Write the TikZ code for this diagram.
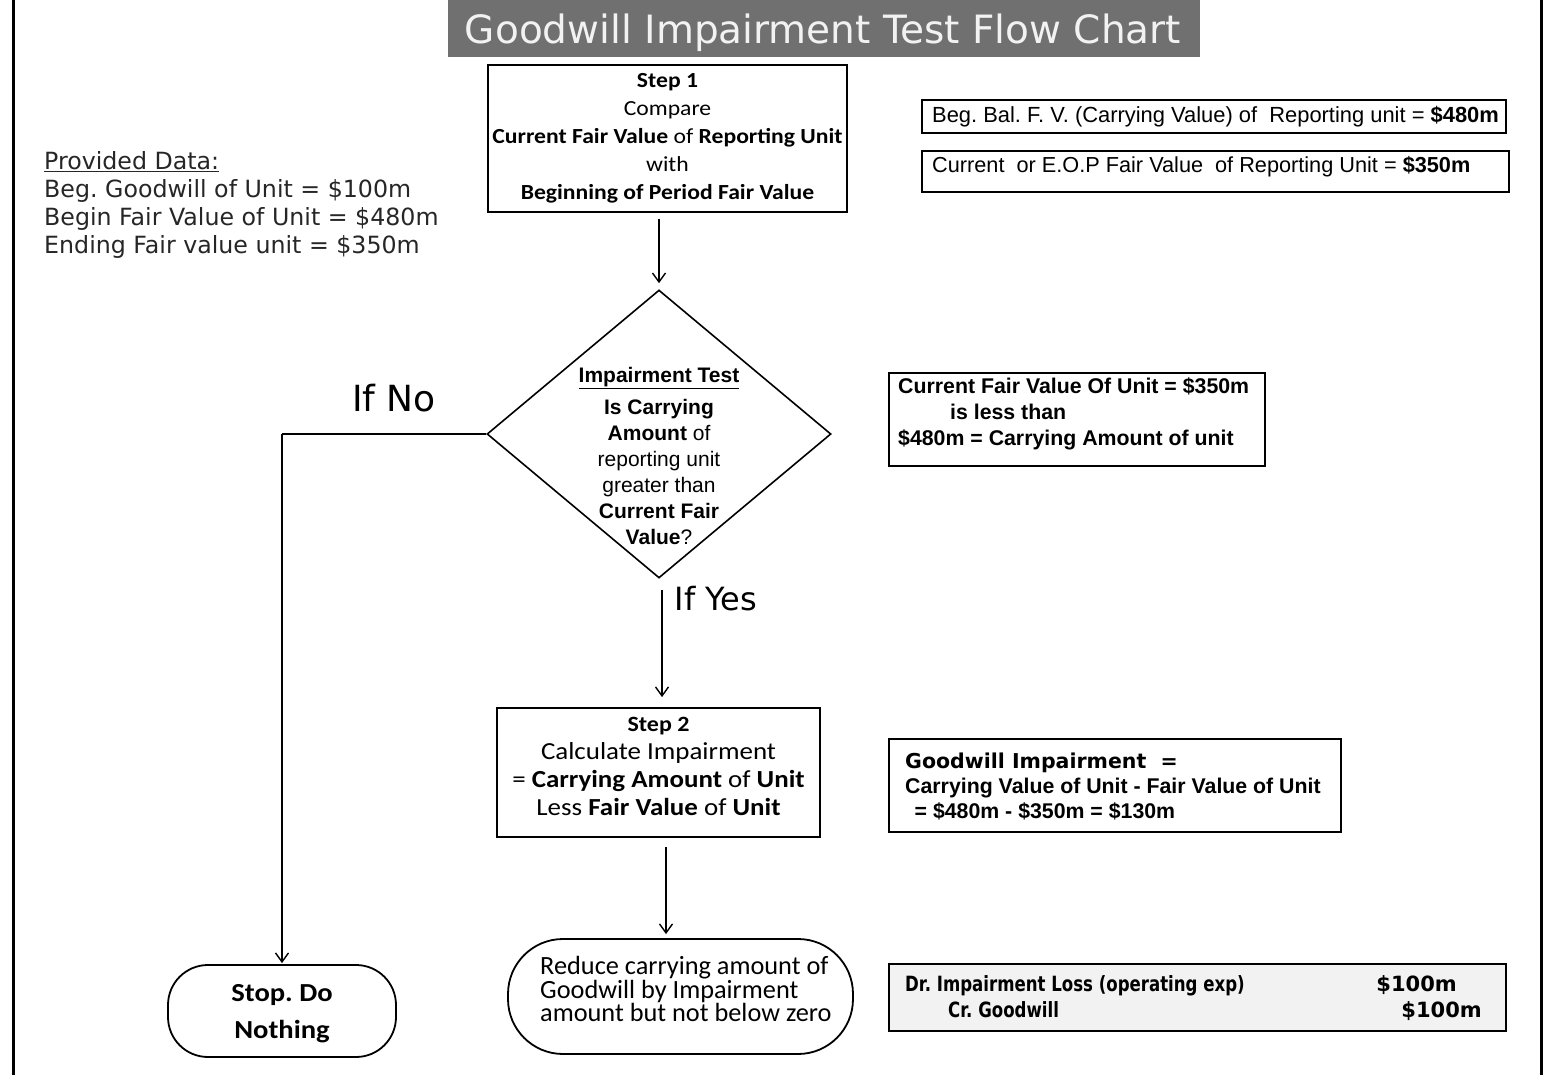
\documentclass[tikz,border=0pt]{standalone}
\usepackage{fontspec}
\setmainfont{Carlito}
\newfontfamily\verd{DejaVu Sans}
\newfontfamily\taho[FakeStretch=0.79]{DejaVu Sans}
\newfontfamily\ari{Liberation Sans}
\newfontfamily\fcal{Carlito}
\newfontfamily\fcalw[FakeStretch=1.1]{Carlito}
\usetikzlibrary{shapes.geometric,arrows.meta,shadows}
\definecolor{titlegray}{RGB}{112,112,112}
\definecolor{titletext}{RGB}{242,242,242}
\definecolor{jbox}{RGB}{242,242,242}
\begin{document}
\begin{tikzpicture}[x=1pt,y=-1pt,
  box/.style={draw, line width=1.8pt, inner sep=0pt},
  ibox/.style={draw, line width=1.8pt, inner sep=0pt, fill=white,
    drop shadow={shadow xshift=1.5pt, shadow yshift=-1.5pt, fill=black!45}},
  arr/.style={line width=1.5pt, -{Straight Barb[length=9pt,width=13pt,line width=1.4pt]}},
  txt/.style={inner sep=0pt},
  every node/.append style={execute at begin node={\lineskiplimit=-100pt\frenchspacing}}]
\useasboundingbox (0,0) rectangle (1545,1075);
% page borders
\draw[line width=3pt] (13,0) -- (13,1075);
\draw[line width=3pt] (1541,0) -- (1541,1075);
% title
\node[fill=titlegray, minimum width=752, minimum height=57, inner sep=0pt] (title) at (824,28.5) {};
\node[txt, anchor=base, text=titletext, font=\verd\fontsize{39}{40}\selectfont] (titlet) at (823,44)
  {Goodwill Impairment Test Flow Chart};
% provided data
\node[txt, anchor=north west, align=left, font=\verd\fontsize{23.7}{28}\selectfont, text=black!85] (data) at (44,151)
  {\underline{Provided Data:}\\Beg. Goodwill of Unit = \$100m\\Begin Fair Value of Unit = \$480m\\Ending Fair value unit = \$350m};
% step 1
\node[box, minimum width=359, minimum height=147, align=center,
  font=\fcalw\fontsize{21.5}{28}\selectfont] (s1) at (667.5,138.5)
  {\textbf{Step 1}\\Compare\\\textbf{Current Fair Value} of \textbf{Reporting Unit}\\with\\\textbf{Beginning of Period Fair Value}};
% diamond
\node[draw, diamond, line width=1.6pt, minimum width=344, minimum height=288, inner sep=0pt] (dia) at (659,434) {};
\node[txt, align=center, font=\ari\fontsize{21}{26}\selectfont] (diat) at (659,456)
  {\textbf{\underline{Impairment Test}}\\[6pt]\textbf{Is Carrying}\\\textbf{Amount} of\\reporting unit\\greater than\\\textbf{Current Fair}\\\textbf{Value}?};
% labels
\node[txt, font=\verd\fontsize{36}{38}\selectfont] (ifno) at (394,398) {If No};
\node[txt, font=\verd\fontsize{32}{34}\selectfont] (ifyes) at (716,599) {If Yes};
% step 2
\node[box, minimum width=323, minimum height=129] (s2) at (658.5,772.5) {};
\node[txt, align=center, font=\fcalw\fontsize{24.5}{28}\selectfont] (s2t) at (658.5,766)
  {{\fontsize{21.8}{28}\selectfont\textbf{Step 2}}\\Calculate Impairment\\= \textbf{Carrying Amount} of \textbf{Unit}\\Less \textbf{Fair Value} of \textbf{Unit}};
% terminal nodes
\node[box, rounded corners=40pt, minimum width=228, minimum height=92] (stop) at (282,1011) {};
\node[txt, align=center, font=\fcalw\bfseries\fontsize{26}{37}\selectfont] (stopt) at (282,1014) {Stop. Do\\Nothing};
\node[box, rounded corners=55pt, minimum width=345, minimum height=115] (red) at (680.5,996.5) {};
\node[txt, anchor=west, align=left, font=\fcal\fontsize{26.3}{23.5}\selectfont] (redt) at (540,989)
  {Reduce carrying amount of\\Goodwill by Impairment\\amount but not below zero};
% connectors
\draw[arr, shorten <=6pt, shorten >=6pt] (dia.north |- s1.south) -- (dia.north);
\draw[line width=1.5pt] (dia.west) -- (dia.west -| stop.north);
\draw[arr, shorten >=1pt] (dia.west -| stop.north) -- (stop.north);
\coordinate (yesStart) at (662,590);
\draw[arr, shorten >=10pt] (yesStart) -- (yesStart |- s2.north);
\coordinate (s2Out) at (666,847);
\draw[arr, shorten >=4pt] (s2Out) -- (s2Out |- red.north);
% right info boxes
\node[ibox, minimum width=584, minimum height=33, anchor=north west] (bA) at (921,99) {};
\node[txt, anchor=base west, font=\ari\fontsize{21.9}{22}\selectfont] (tA) at (932,122.5)
  {Beg. Bal. F. V. (Carrying Value) of\ \ Reporting unit = \textbf{\$480m}};
\node[ibox, minimum width=587, minimum height=41, anchor=north west] (bB) at (921,150) {};
\node[txt, anchor=base west, font=\ari\fontsize{21.7}{22}\selectfont] (tB) at (932,172.5)
  {Current\ \ or E.O.P Fair Value\ \ of Reporting Unit = \textbf{\$350m}};
\node[ibox, minimum width=376, minimum height=93, anchor=north west] (bC) at (888,372) {};
\node[txt, anchor=west, align=left, font=\ari\bfseries\fontsize{21.3}{26}\selectfont] (tC) at (898,414)
  {Current Fair Value Of Unit = \$350m\\\hspace*{52pt}is less than\\\$480m = Carrying Amount of unit};
\node[ibox, minimum width=452, minimum height=93, anchor=north west] (bD) at (888,738) {};
\node[txt, anchor=west, align=left, font=\ari\bfseries\fontsize{21.3}{25}\selectfont] (tD) at (905,786)
  {{\verd\fontsize{20.5}{25}\selectfont Goodwill Impairment\ \ =}\\Carrying Value of Unit - Fair Value of Unit\\\ \,= \$480m - \$350m = \$130m};
\node[ibox, fill=jbox, minimum width=617, minimum height=67, anchor=north west] (bE) at (888,963) {};
\node[txt, anchor=base west, font=\taho\bfseries\fontsize{21}{24}\selectfont] (tE1) at (905,991.5) {Dr. Impairment Loss (operating exp)};
\node[txt, anchor=base east, font=\verd\bfseries\fontsize{21}{24}\selectfont] (tE2) at (1457,991.5) {\$100m};
\node[txt, anchor=base west, font=\taho\bfseries\fontsize{21}{24}\selectfont] (tE3) at (948,1017.5) {Cr. Goodwill};
\node[txt, anchor=base east, font=\verd\bfseries\fontsize{21}{24}\selectfont] (tE4) at (1482,1017.5) {\$100m};
\end{tikzpicture}
\end{document}
